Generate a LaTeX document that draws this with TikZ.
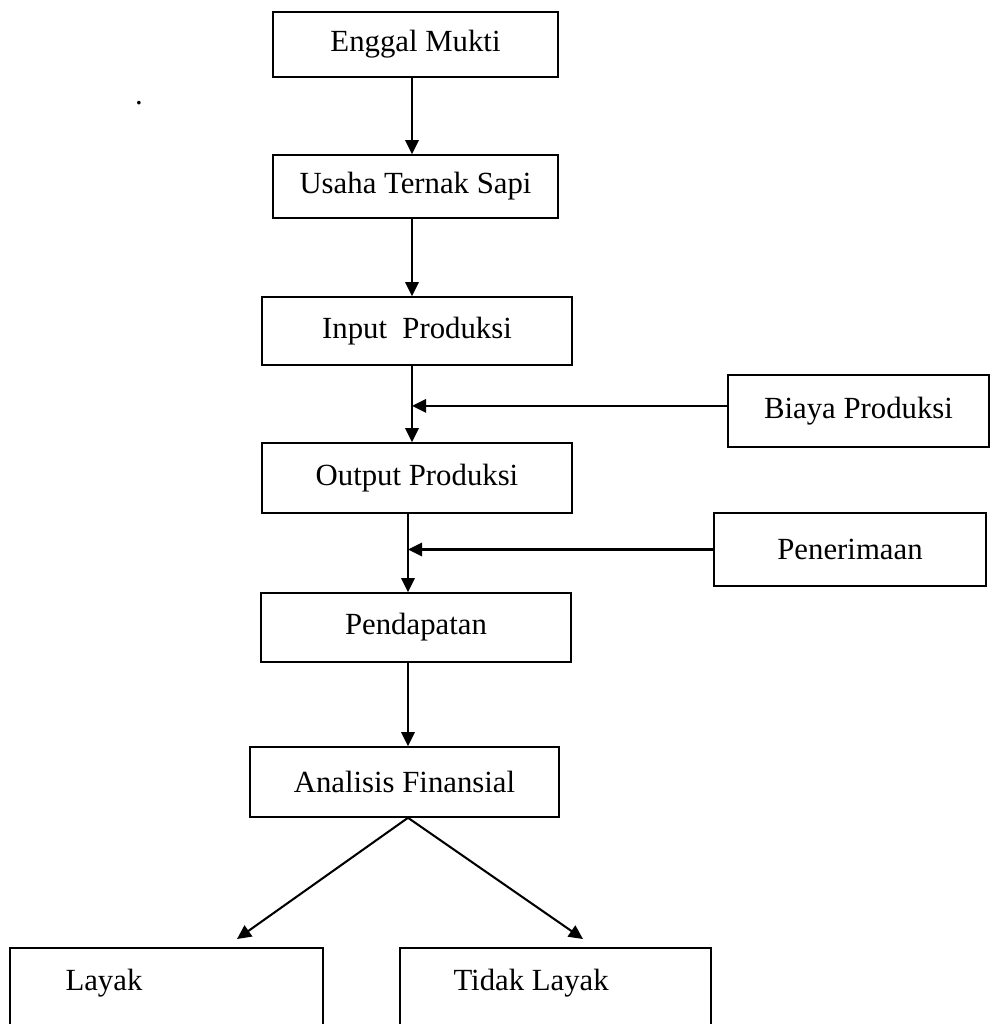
\documentclass[tikz,border=0pt]{standalone}
\usepackage{fontspec}
\setmainfont{Liberation Serif}
\usetikzlibrary{arrows.meta}

\begin{document}
\begin{tikzpicture}[x=0.39pt,y=-0.39pt,>={Triangle[length=5.5pt,width=5.2pt]},
  txt/.style={font=\fontsize{12}{14}\selectfont,inner sep=0pt},
  box/.style={txt,draw,line width=0.6pt},
  thickbox/.style={box,line width=1.1pt},
  arr/.style={->,line width=0.8pt}]
  \useasboundingbox (0,0) rectangle (990,1024);
  \clip (0,0) rectangle (990,1024);
%%
  % Node: Enggal Mukti
  \node[box,minimum width=111.15pt,minimum height=25.35pt] (enggal) at (415.5,44.5) {Enggal Mukti};
  \node[txt] (dot) at (139,103) {.};
  % Node: Usaha Ternak Sapi
  \node[box,minimum width=111.15pt,minimum height=24.57pt] (usaha) at (415.5,186.5) {Usaha Ternak Sapi};
  % Node: Input Produksi
  \node[box,minimum width=120.9pt,minimum height=26.52pt] (input) at (417,331) {Input\ \ Produksi};
  % Node: Biaya Produksi
  \node[thickbox,minimum width=101.79pt,minimum height=28.08pt] (biaya) at (858.5,411) {Biaya Produksi};
  % Node: Output Produksi
  \node[box,minimum width=120.9pt,minimum height=27.3pt] (output) at (417,478) {Output Produksi};
  % Node: Penerimaan
  \node[thickbox,minimum width=106.08pt,minimum height=28.47pt] (penerimaan) at (850,549.5) {Penerimaan};
  % Node: Pendapatan
  \node[box,minimum width=120.9pt,minimum height=26.91pt] (pendapatan) at (416,627.5) {Pendapatan};
  % Node: Analisis Finansial
  \node[box,minimum width=120.51pt,minimum height=27.3pt] (analisis) at (404.5,782) {Analisis Finansial};
  % Node: Layak
  \node[thickbox,minimum width=122.07pt,minimum height=43.68pt] (layak) at (166.5,1004) {};
  \node[txt,anchor=base west] (layaktext) at (65,990) {Layak};
  % Node: Tidak Layak
  \node[thickbox,minimum width=121.29pt,minimum height=43.68pt] (tidak) at (555.5,1004) {};
  \node[txt,anchor=base west] (tidaktext) at (453,990) {Tidak Layak};
%
  \coordinate (spine) at (412,0);
  \coordinate (spinelow) at (408,0);
  \coordinate (layaktip) at (237,939);
  \coordinate (tidaktip) at (583,939);
  % Edge: Enggal Mukti -> Usaha Ternak Sapi -> Input Produksi -> Output Produksi
  \draw[arr] (enggal.south -| spine) -- (usaha.north -| spine);
  \draw[arr] (usaha.south -| spine) -- (input.north -| spine);
  \draw[arr] (input.south -| spine) -- (output.north -| spine);
  % Edge: Biaya Produksi -> main line
  \draw[arr] ([yshift=2pt]biaya.west) -- ([yshift=2pt]biaya.west -| spine);
  % Edge: Output Produksi -> Pendapatan -> Analisis Finansial
  \draw[arr] (output.south -| spinelow) -- (pendapatan.north -| spinelow);
  \draw[arr] (pendapatan.south -| spinelow) -- (analisis.north -| spinelow);
  % Edge: Penerimaan -> main line
  \draw[arr] (penerimaan.west) -- (penerimaan.west -| spinelow);
  % Edge: Analisis Finansial -> Layak / Tidak Layak
  \draw[arr] (analisis.south -| spinelow) -- (layaktip);
  \draw[arr] (analisis.south -| spinelow) -- (tidaktip);
%
\end{tikzpicture}
\end{document}
